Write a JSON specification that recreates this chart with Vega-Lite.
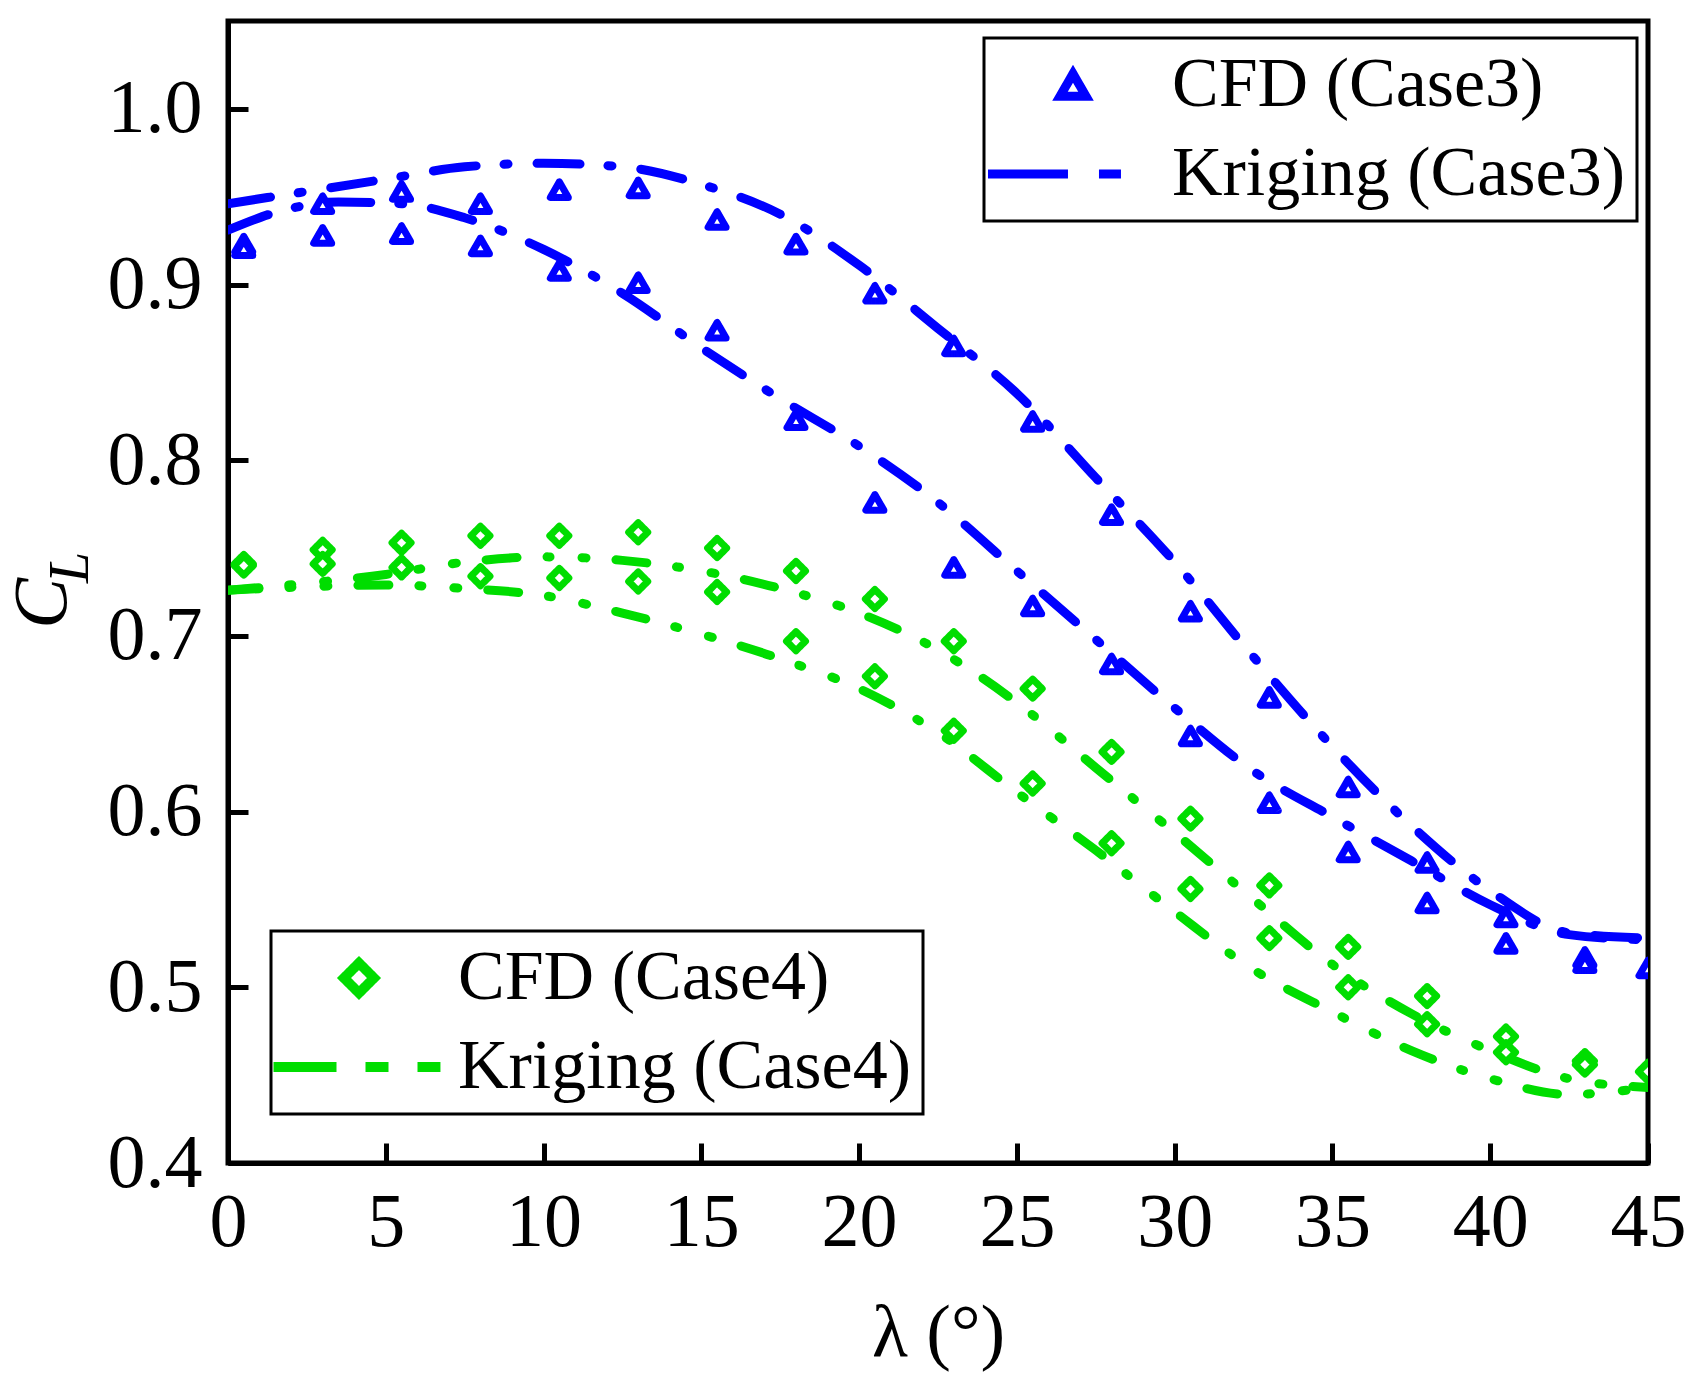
{
  "$schema": "https://vega.github.io/schema/vega-lite/v6.json",
  "autosize": {"type": "none"},
  "padding": {"left": 228, "top": 21, "right": 57, "bottom": 226},
  "width": 1420,
  "height": 1142,
  "background": "white",
  "encoding": {
    "x": {
      "field": "x", "type": "quantitative",
      "scale": {"domain": [0, 45], "nice": false},
      "axis": {
        "values": [0, 5, 10, 15, 20, 25, 30, 35, 40, 45],
        "title": "λ (°)",
        "titleFontSize": 74,
        "titleBaseline": "alphabetic",
        "titleY": 192,
        "labelPadding": 42
      }
    }
  },
  "layer": [
    {
      "data": {"values": [
        {"series": "Kriging (Case3)", "grp": "a", "x": 0, "y": 0.946},
        {"series": "Kriging (Case3)", "grp": "a", "x": 2.5, "y": 0.953},
        {"series": "Kriging (Case3)", "grp": "a", "x": 5, "y": 0.960},
        {"series": "Kriging (Case3)", "grp": "a", "x": 7.5, "y": 0.967},
        {"series": "Kriging (Case3)", "grp": "a", "x": 10, "y": 0.969},
        {"series": "Kriging (Case3)", "grp": "a", "x": 12.5, "y": 0.967},
        {"series": "Kriging (Case3)", "grp": "a", "x": 15, "y": 0.957},
        {"series": "Kriging (Case3)", "grp": "a", "x": 17.5, "y": 0.940},
        {"series": "Kriging (Case3)", "grp": "a", "x": 20, "y": 0.911},
        {"series": "Kriging (Case3)", "grp": "a", "x": 22.5, "y": 0.875},
        {"series": "Kriging (Case3)", "grp": "a", "x": 25, "y": 0.838},
        {"series": "Kriging (Case3)", "grp": "a", "x": 27.5, "y": 0.790},
        {"series": "Kriging (Case3)", "grp": "a", "x": 30, "y": 0.742},
        {"series": "Kriging (Case3)", "grp": "a", "x": 32.5, "y": 0.688},
        {"series": "Kriging (Case3)", "grp": "a", "x": 35, "y": 0.637},
        {"series": "Kriging (Case3)", "grp": "a", "x": 37.5, "y": 0.592},
        {"series": "Kriging (Case3)", "grp": "a", "x": 40, "y": 0.555},
        {"series": "Kriging (Case3)", "grp": "a", "x": 42.5, "y": 0.531},
        {"series": "Kriging (Case3)", "grp": "a", "x": 45, "y": 0.528},
        {"series": "Kriging (Case3)", "grp": "b", "x": 0, "y": 0.931},
        {"series": "Kriging (Case3)", "grp": "b", "x": 1.5, "y": 0.941},
        {"series": "Kriging (Case3)", "grp": "b", "x": 3.5, "y": 0.947},
        {"series": "Kriging (Case3)", "grp": "b", "x": 5.5, "y": 0.946},
        {"series": "Kriging (Case3)", "grp": "b", "x": 7.5, "y": 0.938},
        {"series": "Kriging (Case3)", "grp": "b", "x": 10, "y": 0.920},
        {"series": "Kriging (Case3)", "grp": "b", "x": 12.5, "y": 0.895},
        {"series": "Kriging (Case3)", "grp": "b", "x": 15, "y": 0.864},
        {"series": "Kriging (Case3)", "grp": "b", "x": 17.5, "y": 0.835},
        {"series": "Kriging (Case3)", "grp": "b", "x": 20, "y": 0.808},
        {"series": "Kriging (Case3)", "grp": "b", "x": 22.5, "y": 0.776},
        {"series": "Kriging (Case3)", "grp": "b", "x": 25, "y": 0.737},
        {"series": "Kriging (Case3)", "grp": "b", "x": 27.5, "y": 0.698},
        {"series": "Kriging (Case3)", "grp": "b", "x": 30, "y": 0.659},
        {"series": "Kriging (Case3)", "grp": "b", "x": 32.5, "y": 0.623},
        {"series": "Kriging (Case3)", "grp": "b", "x": 35, "y": 0.597},
        {"series": "Kriging (Case3)", "grp": "b", "x": 37.5, "y": 0.572},
        {"series": "Kriging (Case3)", "grp": "b", "x": 40, "y": 0.547},
        {"series": "Kriging (Case3)", "grp": "b", "x": 42.5, "y": 0.530},
        {"series": "Kriging (Case3)", "grp": "b", "x": 45, "y": 0.527},
        {"series": "CFD (Case3)", "grp": "a", "x": 0.5, "y": 0.923},
        {"series": "CFD (Case3)", "grp": "a", "x": 3, "y": 0.946},
        {"series": "CFD (Case3)", "grp": "a", "x": 5.5, "y": 0.953},
        {"series": "CFD (Case3)", "grp": "a", "x": 8, "y": 0.946},
        {"series": "CFD (Case3)", "grp": "a", "x": 10.5, "y": 0.954},
        {"series": "CFD (Case3)", "grp": "a", "x": 13, "y": 0.955},
        {"series": "CFD (Case3)", "grp": "a", "x": 15.5, "y": 0.937},
        {"series": "CFD (Case3)", "grp": "a", "x": 18, "y": 0.923},
        {"series": "CFD (Case3)", "grp": "a", "x": 20.5, "y": 0.895},
        {"series": "CFD (Case3)", "grp": "a", "x": 23, "y": 0.865},
        {"series": "CFD (Case3)", "grp": "a", "x": 25.5, "y": 0.822},
        {"series": "CFD (Case3)", "grp": "a", "x": 28, "y": 0.769},
        {"series": "CFD (Case3)", "grp": "a", "x": 30.5, "y": 0.714},
        {"series": "CFD (Case3)", "grp": "a", "x": 33, "y": 0.665},
        {"series": "CFD (Case3)", "grp": "a", "x": 35.5, "y": 0.614},
        {"series": "CFD (Case3)", "grp": "a", "x": 38, "y": 0.571},
        {"series": "CFD (Case3)", "grp": "a", "x": 40.5, "y": 0.540},
        {"series": "CFD (Case3)", "grp": "a", "x": 43, "y": 0.517},
        {"series": "CFD (Case3)", "grp": "a", "x": 45, "y": 0.511},
        {"series": "CFD (Case3)", "grp": "b", "x": 0.5, "y": 0.921},
        {"series": "CFD (Case3)", "grp": "b", "x": 3, "y": 0.928},
        {"series": "CFD (Case3)", "grp": "b", "x": 5.5, "y": 0.929},
        {"series": "CFD (Case3)", "grp": "b", "x": 8, "y": 0.922},
        {"series": "CFD (Case3)", "grp": "b", "x": 10.5, "y": 0.908},
        {"series": "CFD (Case3)", "grp": "b", "x": 13, "y": 0.901},
        {"series": "CFD (Case3)", "grp": "b", "x": 15.5, "y": 0.874},
        {"series": "CFD (Case3)", "grp": "b", "x": 18, "y": 0.823},
        {"series": "CFD (Case3)", "grp": "b", "x": 20.5, "y": 0.776},
        {"series": "CFD (Case3)", "grp": "b", "x": 23, "y": 0.739},
        {"series": "CFD (Case3)", "grp": "b", "x": 25.5, "y": 0.717},
        {"series": "CFD (Case3)", "grp": "b", "x": 28, "y": 0.684},
        {"series": "CFD (Case3)", "grp": "b", "x": 30.5, "y": 0.643},
        {"series": "CFD (Case3)", "grp": "b", "x": 33, "y": 0.605},
        {"series": "CFD (Case3)", "grp": "b", "x": 35.5, "y": 0.577},
        {"series": "CFD (Case3)", "grp": "b", "x": 38, "y": 0.548},
        {"series": "CFD (Case3)", "grp": "b", "x": 40.5, "y": 0.525},
        {"series": "CFD (Case3)", "grp": "b", "x": 43, "y": 0.514}
      ]},
      "encoding": {
        "y": {
          "field": "y", "type": "quantitative",
          "scale": {"domain": [0.4, 1.05], "nice": false, "zero": false},
          "axis": {
            "values": [0.4, 0.5, 0.6, 0.7, 0.8, 0.9, 1.0],
            "format": ".1f",
            "labelPadding": 46,
            "title": "C",
            "titleFontStyle": "italic",
            "titleFontSize": 76,
            "titleAngle": -90,
            "titleAlign": "center",
            "titleBaseline": "alphabetic",
            "titleX": -163,
            "titleY": 582
          }
        },
        "stroke": {
          "field": "series", "type": "nominal",
          "scale": {"domain": ["CFD (Case3)", "Kriging (Case3)"], "range": ["#0000ff", "#0000ff"]},
          "legend": {
            "title": null, "orient": "none", "legendX": 756, "legendY": 17,
            "symbolSize": 676, "symbolStrokeWidth": 9, "symbolFillColor": "white",
            "symbolOffset": 42, "labelOffset": 64
          }
        }
      },
      "layer": [
        {
          "transform": [{"filter": "datum.series === 'Kriging (Case3)'"}],
          "mark": {"type": "line", "interpolate": "monotone", "strokeWidth": 9, "strokeCap": "round", "strokeDash": [43, 28, 4, 29], "clip": true},
          "encoding": {"detail": {"field": "grp"}}
        },
        {
          "transform": [{"filter": "datum.series === 'CFD (Case3)'"}],
          "mark": {"type": "point", "filled": true, "fill": "white", "size": 324, "strokeWidth": 7, "strokeJoin": "round", "opacity": 1, "clip": true},
          "encoding": {
            "shape": {
              "field": "series", "type": "nominal",
              "scale": {"domain": ["CFD (Case3)", "Kriging (Case3)"], "range": ["triangle-up", "M-6.54,0L3.69,0"]},
              "legend": {
                "title": null, "orient": "none", "legendX": 756, "legendY": 17,
                "symbolSize": 676, "symbolStrokeWidth": 9, "symbolFillColor": "white",
                "symbolOffset": 42, "labelOffset": 64
              }
            },
            "strokeDash": {
              "field": "series", "type": "nominal",
              "scale": {"domain": ["CFD (Case3)", "Kriging (Case3)"], "range": [[1, 0], [80, 31, 22, 400]]},
              "legend": {
                "title": null, "orient": "none", "legendX": 756, "legendY": 17,
                "symbolSize": 676, "symbolStrokeWidth": 9, "symbolFillColor": "white",
                "symbolOffset": 42, "labelOffset": 64
              }
            }
          }
        }
      ]
    },
    {
      "data": {"values": [
        {"series": "Kriging (Case4)", "grp": "a", "x": 0, "y": 0.726},
        {"series": "Kriging (Case4)", "grp": "a", "x": 2.5, "y": 0.730},
        {"series": "Kriging (Case4)", "grp": "a", "x": 5, "y": 0.735},
        {"series": "Kriging (Case4)", "grp": "a", "x": 7.5, "y": 0.742},
        {"series": "Kriging (Case4)", "grp": "a", "x": 10, "y": 0.745},
        {"series": "Kriging (Case4)", "grp": "a", "x": 12.5, "y": 0.743},
        {"series": "Kriging (Case4)", "grp": "a", "x": 15, "y": 0.737},
        {"series": "Kriging (Case4)", "grp": "a", "x": 17.5, "y": 0.727},
        {"series": "Kriging (Case4)", "grp": "a", "x": 20, "y": 0.713},
        {"series": "Kriging (Case4)", "grp": "a", "x": 22.5, "y": 0.692},
        {"series": "Kriging (Case4)", "grp": "a", "x": 25, "y": 0.662},
        {"series": "Kriging (Case4)", "grp": "a", "x": 27.5, "y": 0.625},
        {"series": "Kriging (Case4)", "grp": "a", "x": 30, "y": 0.588},
        {"series": "Kriging (Case4)", "grp": "a", "x": 32.5, "y": 0.550},
        {"series": "Kriging (Case4)", "grp": "a", "x": 35, "y": 0.513},
        {"series": "Kriging (Case4)", "grp": "a", "x": 37.5, "y": 0.485},
        {"series": "Kriging (Case4)", "grp": "a", "x": 40, "y": 0.464},
        {"series": "Kriging (Case4)", "grp": "a", "x": 42.5, "y": 0.448},
        {"series": "Kriging (Case4)", "grp": "a", "x": 45, "y": 0.443},
        {"series": "Kriging (Case4)", "grp": "b", "x": 0, "y": 0.726},
        {"series": "Kriging (Case4)", "grp": "b", "x": 2.5, "y": 0.728},
        {"series": "Kriging (Case4)", "grp": "b", "x": 5, "y": 0.729},
        {"series": "Kriging (Case4)", "grp": "b", "x": 7.5, "y": 0.727},
        {"series": "Kriging (Case4)", "grp": "b", "x": 10, "y": 0.723},
        {"series": "Kriging (Case4)", "grp": "b", "x": 12.5, "y": 0.713},
        {"series": "Kriging (Case4)", "grp": "b", "x": 15, "y": 0.701},
        {"series": "Kriging (Case4)", "grp": "b", "x": 17.5, "y": 0.687},
        {"series": "Kriging (Case4)", "grp": "b", "x": 20, "y": 0.670},
        {"series": "Kriging (Case4)", "grp": "b", "x": 22.5, "y": 0.645},
        {"series": "Kriging (Case4)", "grp": "b", "x": 25, "y": 0.611},
        {"series": "Kriging (Case4)", "grp": "b", "x": 27.5, "y": 0.578},
        {"series": "Kriging (Case4)", "grp": "b", "x": 30, "y": 0.543},
        {"series": "Kriging (Case4)", "grp": "b", "x": 32.5, "y": 0.510},
        {"series": "Kriging (Case4)", "grp": "b", "x": 35, "y": 0.486},
        {"series": "Kriging (Case4)", "grp": "b", "x": 37.5, "y": 0.464},
        {"series": "Kriging (Case4)", "grp": "b", "x": 40, "y": 0.448},
        {"series": "Kriging (Case4)", "grp": "b", "x": 42.5, "y": 0.439},
        {"series": "Kriging (Case4)", "grp": "b", "x": 45, "y": 0.443},
        {"series": "CFD (Case4)", "grp": "a", "x": 0.5, "y": 0.741},
        {"series": "CFD (Case4)", "grp": "a", "x": 3, "y": 0.749},
        {"series": "CFD (Case4)", "grp": "a", "x": 5.5, "y": 0.753},
        {"series": "CFD (Case4)", "grp": "a", "x": 8, "y": 0.757},
        {"series": "CFD (Case4)", "grp": "a", "x": 10.5, "y": 0.757},
        {"series": "CFD (Case4)", "grp": "a", "x": 13, "y": 0.759},
        {"series": "CFD (Case4)", "grp": "a", "x": 15.5, "y": 0.750},
        {"series": "CFD (Case4)", "grp": "a", "x": 18, "y": 0.737},
        {"series": "CFD (Case4)", "grp": "a", "x": 20.5, "y": 0.721},
        {"series": "CFD (Case4)", "grp": "a", "x": 23, "y": 0.697},
        {"series": "CFD (Case4)", "grp": "a", "x": 25.5, "y": 0.670},
        {"series": "CFD (Case4)", "grp": "a", "x": 28, "y": 0.634},
        {"series": "CFD (Case4)", "grp": "a", "x": 30.5, "y": 0.596},
        {"series": "CFD (Case4)", "grp": "a", "x": 33, "y": 0.558},
        {"series": "CFD (Case4)", "grp": "a", "x": 35.5, "y": 0.523},
        {"series": "CFD (Case4)", "grp": "a", "x": 38, "y": 0.495},
        {"series": "CFD (Case4)", "grp": "a", "x": 40.5, "y": 0.472},
        {"series": "CFD (Case4)", "grp": "a", "x": 43, "y": 0.458},
        {"series": "CFD (Case4)", "grp": "a", "x": 45, "y": 0.452},
        {"series": "CFD (Case4)", "grp": "b", "x": 0.5, "y": 0.740},
        {"series": "CFD (Case4)", "grp": "b", "x": 3, "y": 0.741},
        {"series": "CFD (Case4)", "grp": "b", "x": 5.5, "y": 0.739},
        {"series": "CFD (Case4)", "grp": "b", "x": 8, "y": 0.734},
        {"series": "CFD (Case4)", "grp": "b", "x": 10.5, "y": 0.733},
        {"series": "CFD (Case4)", "grp": "b", "x": 13, "y": 0.731},
        {"series": "CFD (Case4)", "grp": "b", "x": 15.5, "y": 0.725},
        {"series": "CFD (Case4)", "grp": "b", "x": 18, "y": 0.697},
        {"series": "CFD (Case4)", "grp": "b", "x": 20.5, "y": 0.677},
        {"series": "CFD (Case4)", "grp": "b", "x": 23, "y": 0.646},
        {"series": "CFD (Case4)", "grp": "b", "x": 25.5, "y": 0.616},
        {"series": "CFD (Case4)", "grp": "b", "x": 28, "y": 0.582},
        {"series": "CFD (Case4)", "grp": "b", "x": 30.5, "y": 0.556},
        {"series": "CFD (Case4)", "grp": "b", "x": 33, "y": 0.528},
        {"series": "CFD (Case4)", "grp": "b", "x": 35.5, "y": 0.500},
        {"series": "CFD (Case4)", "grp": "b", "x": 38, "y": 0.479},
        {"series": "CFD (Case4)", "grp": "b", "x": 40.5, "y": 0.463},
        {"series": "CFD (Case4)", "grp": "b", "x": 43, "y": 0.456}
      ]},
      "encoding": {
        "y": {
          "field": "y", "type": "quantitative",
          "scale": {"domain": [0.4, 1.05], "nice": false, "zero": false},
          "axis": {
            "orient": "left",
            "labels": false, "ticks": false, "domain": false,
            "title": "L",
            "titleFontStyle": "italic",
            "titleFontSize": 56,
            "titleAngle": -90,
            "titleAlign": "center",
            "titleBaseline": "alphabetic",
            "titleX": -141,
            "titleY": 546
          }
        },
        "stroke": {
          "field": "series", "type": "nominal",
          "scale": {"domain": ["CFD (Case4)", "Kriging (Case4)"], "range": ["#00dd00", "#00dd00"]},
          "legend": {
            "title": null, "orient": "none", "legendX": 43, "legendY": 910,
            "symbolSize": 900, "symbolStrokeWidth": 10, "symbolFillColor": "white",
            "symbolOffset": 41, "labelOffset": 64
          }
        }
      },
      "layer": [
        {
          "transform": [{"filter": "datum.series === 'Kriging (Case4)'"}],
          "mark": {"type": "line", "interpolate": "monotone", "strokeWidth": 9, "strokeCap": "round", "strokeDash": [31, 30, 3, 32, 4, 30], "clip": true},
          "encoding": {"detail": {"field": "grp"}}
        },
        {
          "transform": [{"filter": "datum.series === 'CFD (Case4)'"}],
          "mark": {"type": "point", "filled": true, "fill": "white", "size": 361, "strokeWidth": 7, "strokeJoin": "round", "opacity": 1, "clip": true},
          "encoding": {
            "shape": {
              "field": "series", "type": "nominal",
              "scale": {"domain": ["CFD (Case4)", "Kriging (Case4)"], "range": ["diamond", "M-5.7,0L5.43,0"]},
              "legend": {
                "title": null, "orient": "none", "legendX": 43, "legendY": 910,
                "symbolSize": 900, "symbolStrokeWidth": 10, "symbolFillColor": "white",
                "symbolOffset": 41, "labelOffset": 64
              }
            },
            "strokeDash": {
              "field": "series", "type": "nominal",
              "scale": {"domain": ["CFD (Case4)", "Kriging (Case4)"], "range": [[1, 0], [63, 29, 23, 29, 23, 500]]},
              "legend": {
                "title": null, "orient": "none", "legendX": 43, "legendY": 910,
                "symbolSize": 900, "symbolStrokeWidth": 10, "symbolFillColor": "white",
                "symbolOffset": 41, "labelOffset": 64
              }
            }
          }
        }
      ]
    }
  ],
  "resolve": {
    "scale": {"stroke": "independent", "shape": "independent", "strokeDash": "independent"},
    "axis": {"y": "independent"}
  },
  "config": {
    "font": "Liberation Serif",
    "view": {"stroke": "black", "strokeWidth": 5},
    "axis": {
      "grid": false,
      "domainColor": "black", "domainWidth": 5,
      "tickColor": "black", "tickWidth": 5, "tickSize": -20,
      "labelFont": "Liberation Serif", "labelFontSize": 76, "labelColor": "black", "labelFlush": false,
      "titleFont": "Liberation Serif", "titleFontWeight": "normal", "titleColor": "black"
    },
    "legend": {
      "direction": "vertical",
      "padding": 12, "rowPadding": 19,
      "strokeColor": "black", "strokeWidth": 3, "fillColor": "white",
      "labelFont": "Liberation Serif", "labelFontSize": 70, "labelColor": "black", "labelLimit": 0,
      "symbolOpacity": 1
    }
  }
}
